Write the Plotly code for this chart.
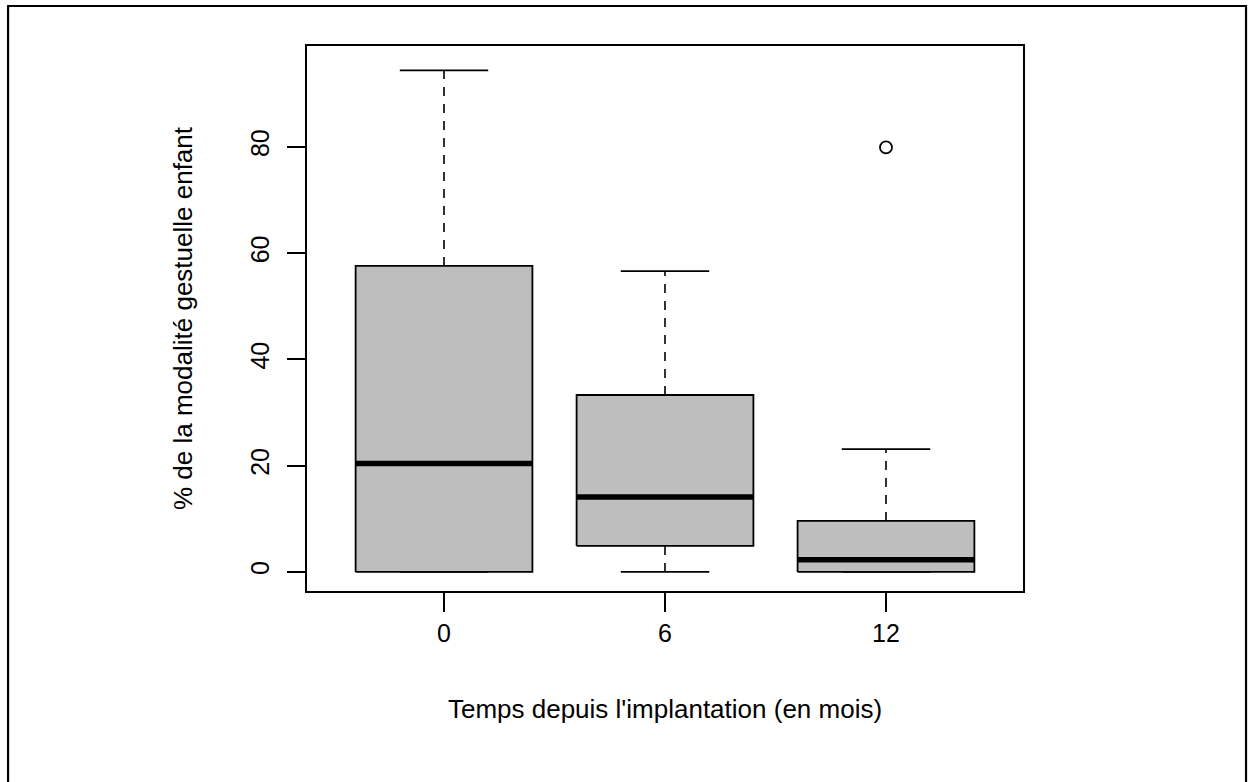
import plotly.graph_objects as go

# ---- data ----
categories = ["0", "6", "12"]
lower_whisker = [0.0, 0.0, 0.0]
q1_values = [0.0, 4.9, 0.0]
medians = [20.4, 14.1, 2.3]
q3_values = [57.6, 33.3, 9.6]
upper_whisker = [94.4, 56.6, 23.1]
outlier_group = [3]
outlier_values = [79.9]
y_tick_values = [0, 20, 40, 60, 80]

BOX_HALF = 0.4
STAPLE_HALF = 0.2
FONT = "Liberation Sans, Arial, sans-serif"
FILL = "#bebebe"

fig = go.Figure()
positions = list(range(1, len(categories) + 1))

for pos, lo, q1, med, q3, hi in zip(positions, lower_whisker, q1_values, medians, q3_values, upper_whisker):
    # dashed whiskers
    wx, wy = [pos, pos], [q3, hi]
    if lo < q1:
        wx += [None, pos, pos]
        wy += [None, lo, q1]
    fig.add_trace(go.Scatter(x=wx, y=wy, mode="lines",
                             line=dict(color="black", width=1.6, dash="9px,8px"),
                             hoverinfo="skip", showlegend=False))
    # staples
    fig.add_trace(go.Scatter(x=[pos - STAPLE_HALF, pos + STAPLE_HALF, None, pos - STAPLE_HALF, pos + STAPLE_HALF],
                             y=[hi, hi, None, lo, lo], mode="lines",
                             line=dict(color="black", width=1.8),
                             hoverinfo="skip", showlegend=False))
    # box
    fig.add_trace(go.Scatter(x=[pos - BOX_HALF, pos + BOX_HALF, pos + BOX_HALF, pos - BOX_HALF, pos - BOX_HALF],
                             y=[q1, q1, q3, q3, q1], mode="lines", fill="toself",
                             fillcolor=FILL, line=dict(color="black", width=1.8),
                             hoverinfo="skip", showlegend=False))
    # median
    fig.add_trace(go.Scatter(x=[pos - BOX_HALF, pos + BOX_HALF], y=[med, med], mode="lines",
                             line=dict(color="black", width=5.5),
                             hoverinfo="skip", showlegend=False))

# outliers
fig.add_trace(go.Scatter(x=outlier_group, y=outlier_values, mode="markers",
                         marker=dict(symbol="circle-open", size=12, color="black",
                                     line=dict(width=1.8, color="black")),
                         hoverinfo="skip", showlegend=False))

fig.update_layout(
    width=1248, height=782,
    margin=dict(l=307, r=225, t=46, b=191),
    paper_bgcolor="white", plot_bgcolor="white",
    font=dict(family=FONT, size=25, color="black"),
    showlegend=False,
    shapes=[dict(type="rect", xref="paper", yref="paper",
                 x0=-0.4175, x1=1.3115, y0=-0.40, y1=1.0734,
                 line=dict(color="black", width=2.2), fillcolor="rgba(0,0,0,0)", layer="below")],
)

fig.update_xaxes(
    range=[0.38, 3.62],
    tickmode="array", tickvals=positions, ticktext=categories,
    showline=True, mirror=True, linecolor="black", linewidth=1.8,
    ticks="outside", ticklen=19, tickwidth=1.8, tickcolor="black",
    showgrid=False, zeroline=False,
    ticklabelstandoff=0,
    tickfont=dict(size=25),
    title=dict(text="Temps depuis l'implantation (en mois)", font=dict(size=26), standoff=54),
)
fig.update_yaxes(
    range=[-3.6, 99.0],
    tickmode="array", tickvals=y_tick_values, ticktext=[str(v) for v in y_tick_values],
    tickangle=-90,
    showline=True, mirror=True, linecolor="black", linewidth=1.8,
    ticks="outside", ticklen=18, tickwidth=1.8, tickcolor="black",
    showgrid=False, zeroline=False,
    ticklabelstandoff=8,
    tickfont=dict(size=25),
    title=dict(text="% de la modalité gestuelle enfant", font=dict(size=26), standoff=46),
)

fig.write_html("out.html",
               config={"displayModeBar": False, "staticPlot": True},
               post_script="document.body.style.margin='0';document.body.style.overflow='hidden';")
